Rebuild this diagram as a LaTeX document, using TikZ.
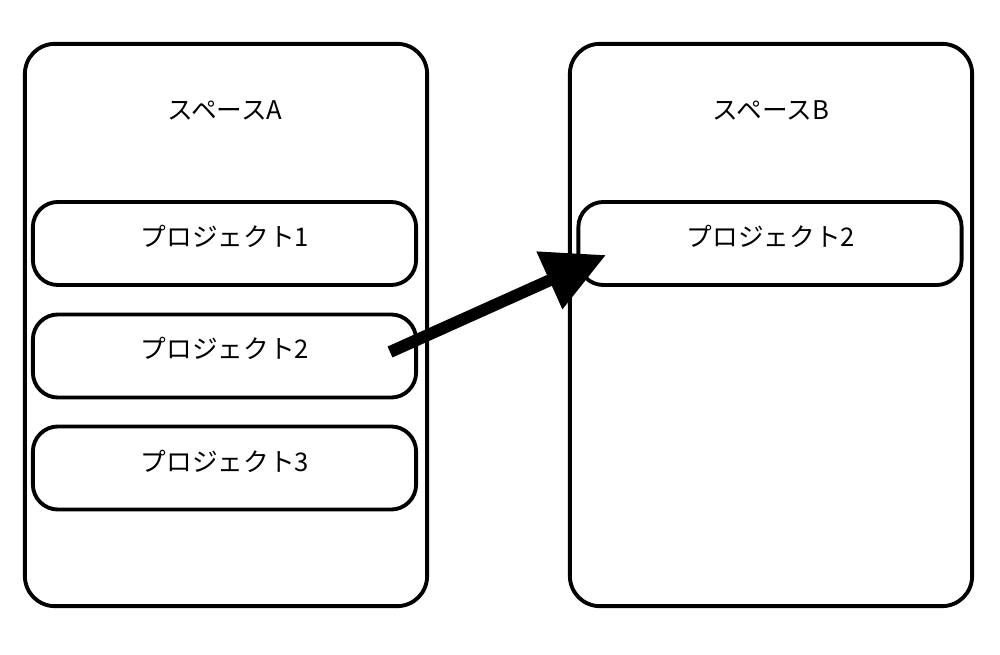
\documentclass[tikz,border=0pt]{standalone}
\usepackage{fontspec}
\setmainfont{Noto Sans CJK JP}
\usetikzlibrary{arrows.meta,positioning}

\begin{document}
\begin{tikzpicture}[x=0.01cm,y=-0.01cm,
    space/.style={rectangle, draw, line width=1.1pt, rounded corners=0.3cm, minimum width=4.02cm, minimum height=5.62cm},
    proj/.style={rectangle, draw, line width=1.1pt, rounded corners=0.25cm, minimum width=3.83cm, minimum height=0.83cm},
    label/.style={font=\fontsize{7.3pt}{8pt}\selectfont},
    arrow/.style={-{Triangle[length=0.62cm,width=0.6cm]}, line width=3.4pt}
]
\useasboundingbox (0,0) rectangle (1000,655);
\node[space] (spaceA) at (226,325) {};
\node[space] (spaceB) at (771,325) {};
\node[label] (titleA) at (225,110) {スペースA};
\node[label] (titleB) at (771,110) {スペースB};

\node[proj] (a1) at (224.5,243.5) {};
\node[proj] (a2) at (224.5,356) {};
\node[proj] (a3) at (224.5,468) {};
\node[proj] (b2) at (770,243.5) {};
\node[label] at (225,236) {プロジェクト1};
\node[label] at (225,348) {プロジェクト2};
\node[label] at (225,461) {プロジェクト3};
\node[label] at (771,236) {プロジェクト2};

\coordinate (from) at (390,352);
\coordinate (to) at (606,255);
\draw[arrow] (from) -- (to);
\end{tikzpicture}
\end{document}
